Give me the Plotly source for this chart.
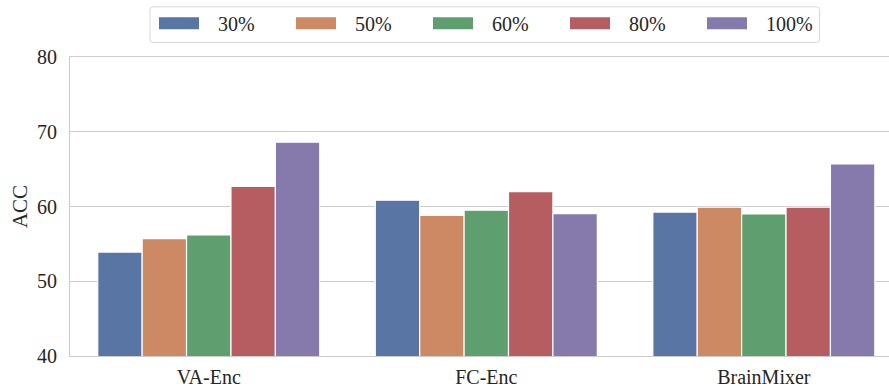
import plotly.graph_objects as go

# Accuracy per encoder at different data ratios
encoders = ["VA-Enc", "FC-Enc", "BrainMixer"]
ratio_labels = ["30%", "50%", "60%", "80%", "100%"]
acc_30 = [53.9, 60.85, 59.25]
acc_50 = [55.7, 58.8, 59.9]
acc_60 = [56.2, 59.5, 59.0]
acc_80 = [62.7, 62.0, 59.9]
acc_100 = [68.6, 59.05, 65.7]
y_ticks = [40, 50, 60, 70, 80]

series = [acc_30, acc_50, acc_60, acc_80, acc_100]
colors = ["#5875A4", "#CC8963", "#5F9E6E", "#B55D60", "#857AAB"]

FONT = "Liberation Serif"
TEXT = "#262626"
GRID = "#cccccc"

W, H = 889, 387
L, R, T, B = 70, 0, 57, 31
PW, PH = W - L - R, H - T - B


def px_x(px):
    return (px - L) / PW


def px_y(py):
    return (H - B - py) / PH


fig = go.Figure()
for name, vals, col in zip(ratio_labels, series, colors):
    fig.add_trace(go.Bar(
        x=encoders, y=vals, name=name,
        marker=dict(color=col, line=dict(color="white", width=1.2)),
        showlegend=False,
    ))

# Legend drawn as a framed row of wide patches above the axes
shapes = []
annotations = []
bx0, bx1, by0, by1, rr = 150, 819.5, 6.8, 42.5, 3
x0, x1 = px_x(bx0), px_x(bx1)
y0, y1 = px_y(by1), px_y(by0)
rx, ry = rr / PW, rr / PH
path = (f"M{x0 + rx},{y1} L{x1 - rx},{y1} Q{x1},{y1} {x1},{y1 - ry} "
        f"L{x1},{y0 + ry} Q{x1},{y0} {x1 - rx},{y0} L{x0 + rx},{y0} "
        f"Q{x0},{y0} {x0},{y0 + ry} L{x0},{y1 - ry} Q{x0},{y1} {x0 + rx},{y1} Z")
shapes.append(dict(type="path", xref="paper", yref="paper", path=path,
                   line=dict(color="#d6d6d6", width=1), fillcolor="white",
                   layer="above"))
for i, (name, col) in enumerate(zip(ratio_labels, colors)):
    left = 159 + i * 137
    shapes.append(dict(type="rect", xref="paper", yref="paper",
                       x0=px_x(left), x1=px_x(left + 40),
                       y0=px_y(29.3), y1=px_y(17.3),
                       fillcolor=col, line=dict(width=0), layer="above"))
    annotations.append(dict(xref="paper", yref="paper", x=px_x(left + 57),
                            y=px_y(24), xanchor="left", yanchor="middle",
                            text=name, showarrow=False,
                            font=dict(family=FONT, size=20, color=TEXT)))

fig.update_layout(
    width=W, height=H,
    margin=dict(l=L, r=R, t=T, b=B, pad=0, autoexpand=False),
    paper_bgcolor="white", plot_bgcolor="white",
    barmode="group", bargap=0.2, bargroupgap=0,
    font=dict(family=FONT, size=20, color=TEXT),
    shapes=shapes, annotations=annotations,
    xaxis=dict(
        type="category", range=[-0.5, 2.451], automargin=False,
        showgrid=False, showline=True, linecolor=GRID, linewidth=1.25,
        mirror=True, ticks="", ticklabelstandoff=3,
        tickfont=dict(family=FONT, size=20, color=TEXT),
    ),
    yaxis=dict(
        range=[40, 80], tickvals=y_ticks, automargin=False,
        showgrid=True, gridcolor=GRID, gridwidth=1,
        showline=True, linecolor=GRID, linewidth=1.25,
        zeroline=False, ticks="", ticklabelstandoff=8,
        tickfont=dict(family=FONT, size=20, color=TEXT),
        title=dict(text="ACC", standoff=3,
                   font=dict(family=FONT, size=21, color=TEXT)),
    ),
)

fig.write_html("out.html")
